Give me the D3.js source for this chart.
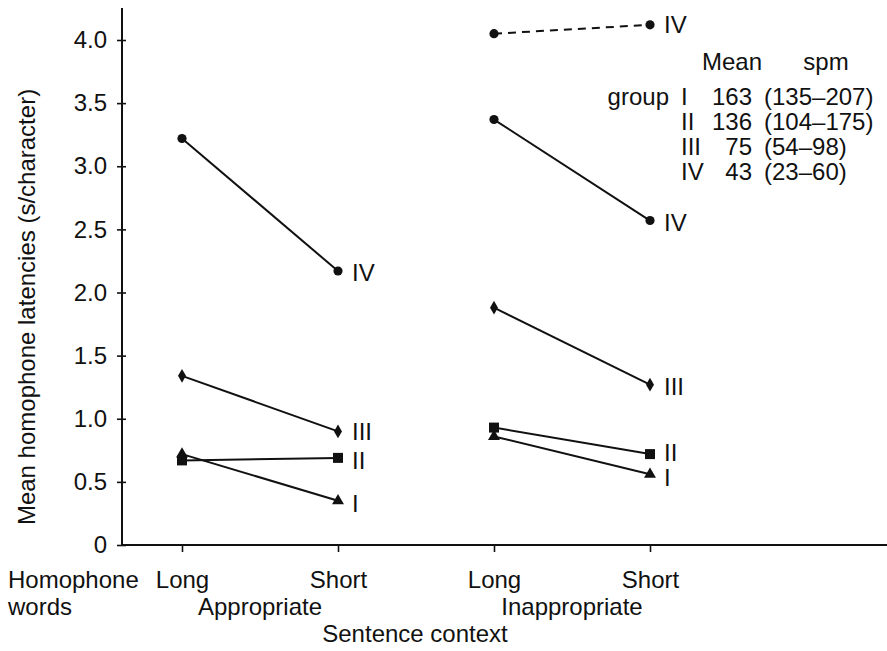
<!DOCTYPE html>
<html>
<head>
<meta charset="utf-8">
<script src="https://cdn.jsdelivr.net/npm/d3@7"></script>
<style>
  html, body { margin: 0; padding: 0; background: #fff; }
  svg text { font-family: "Liberation Sans", Arial, Helvetica, sans-serif; fill: #111; }
</style>
</head>
<body>
<svg id="chart" width="887" height="651"></svg>
<script>
// Conditions along the x axis (sentence context × homophone word length)
const conditions = ["appLong", "appShort", "inappLong", "inappShort"];
const conditionLabels = ["Long", "Short", "Long", "Short"];
const contextLabels = ["Appropriate", "Inappropriate"];

// Reader groups
const groups = ["I", "II", "III", "IV"];

// Mean homophone latencies (s/character) per group: [Long, Short]
const appropriate = {
  I:   [0.72, 0.35],
  II:  [0.67, 0.69],
  III: [1.34, 0.90],
  IV:  [3.22, 2.17]
};
const inappropriate = {
  I:   [0.86, 0.56],
  II:  [0.93, 0.72],
  III: [1.88, 1.27],
  IV:  [3.37, 2.57]
};
// Group IV, inappropriate context, second measure (dashed)
const groupIVDashed = [4.05, 4.12];

// Reading-speed table (syllables per minute)
const spmMeans = [163, 136, 75, 43];
const spmRanges = ["(135–207)", "(104–175)", "(54–98)", "(23–60)"];

const yTicks = [0, 0.5, 1.0, 1.5, 2.0, 2.5, 3.0, 3.5, 4.0];

const svg = d3.select("#chart");
const FS = 24;

const x = d3.scalePoint().domain(conditions).range([182, 650]);
const y = d3.scaleLinear().domain([0, 4]).range([545, 40]);

const symbols = {
  I: d3.symbol().type(d3.symbolTriangle).size(62),
  II: d3.symbol().type(d3.symbolSquare).size(100),
  III: d3.symbol().type(d3.symbolDiamond).size(55),
  IV: d3.symbol().type(d3.symbolCircle).size(66)
};

// Y axis
const yAxis = svg.append("g")
  .attr("transform", "translate(122,0)")
  .call(d3.axisLeft(y).tickValues(yTicks).tickSize(5).tickPadding(10)
    .tickFormat(d => d === 0 ? "0" : d3.format(".1f")(d)));
yAxis.select(".domain").remove();
yAxis.selectAll(".tick line").attr("x1", 4).attr("stroke", "#111").attr("stroke-width", 1.6);
yAxis.selectAll(".tick text").attr("font-size", FS).style("font-family", null);
svg.append("line")
  .attr("x1", 122).attr("x2", 122).attr("y1", 8).attr("y2", 546)
  .attr("stroke", "#111").attr("stroke-width", 2);

// X axis
const xAxis = svg.append("g")
  .attr("transform", "translate(0,545)")
  .call(d3.axisBottom(x).tickSize(7).tickPadding(19)
    .tickFormat((d, i) => conditionLabels[i]));
xAxis.select(".domain").remove();
xAxis.selectAll(".tick line").attr("stroke", "#111").attr("stroke-width", 1.6);
xAxis.selectAll(".tick text").attr("font-size", FS).style("font-family", null);
svg.append("line")
  .attr("x1", 121).attr("x2", 887).attr("y1", 545).attr("y2", 545)
  .attr("stroke", "#111").attr("stroke-width", 2);

// Axis titles
svg.append("text")
  .attr("transform", "translate(35,307) rotate(-90)")
  .attr("text-anchor", "middle").attr("font-size", FS)
  .text("Mean homophone latencies (s/character)");

svg.append("text").attr("x", 8).attr("y", 588).attr("font-size", FS).text("Homophone");
svg.append("text").attr("x", 8).attr("y", 615).attr("font-size", FS).text("words");

contextLabels.forEach((lab, i) => {
  const cx = (x(conditions[2 * i]) + x(conditions[2 * i + 1])) / 2;
  svg.append("text").attr("x", cx).attr("y", 615)
    .attr("text-anchor", "middle").attr("font-size", FS).text(lab);
});
svg.append("text").attr("x", 415).attr("y", 642)
  .attr("text-anchor", "middle").attr("font-size", FS).text("Sentence context");

// Series lines and markers
const line = d3.line().x(d => x(d.c)).y(d => y(d.v));

function drawSeries(values, keys, g, dashed, labelDy) {
  const pts = values.map((v, i) => ({ c: keys[i], v }));
  svg.append("path").datum(pts)
    .attr("d", line).attr("fill", "none")
    .attr("stroke", "#111").attr("stroke-width", 2)
    .attr("stroke-dasharray", dashed ? "8,6" : null);
  svg.selectAll(null).data(pts).enter().append("path")
    .attr("d", symbols[g]())
    .attr("transform", d => `translate(${x(d.c)},${y(d.v)})`)
    .attr("fill", "#111");
  const last = pts[pts.length - 1];
  svg.append("text")
    .attr("x", x(last.c) + 14).attr("y", y(last.v) + (labelDy || 0))
    .attr("dy", "0.36em").attr("font-size", FS).text(g);
}

const labelOffsets = {
  app: { I: 3, II: 2, III: 0, IV: 1 },
  inapp: { I: 3, II: -2, III: 2, IV: 2 }
};

groups.forEach(g => {
  drawSeries(appropriate[g], ["appLong", "appShort"], g, false, labelOffsets.app[g]);
  drawSeries(inappropriate[g], ["inappLong", "inappShort"], g, false, labelOffsets.inapp[g]);
});
drawSeries(groupIVDashed, ["inappLong", "inappShort"], "IV", true, 0);

// Reading-speed table
const tbl = svg.append("g");
tbl.append("text").attr("x", 732).attr("y", 70).attr("text-anchor", "middle")
  .attr("font-size", FS).text("Mean");
tbl.append("text").attr("x", 826).attr("y", 70).attr("text-anchor", "middle")
  .attr("font-size", FS).text("spm");
tbl.append("text").attr("x", 669).attr("y", 105).attr("text-anchor", "end")
  .attr("font-size", FS).text("group");
groups.forEach((g, i) => {
  const by = 105 + i * 25;
  tbl.append("text").attr("x", 681).attr("y", by).attr("font-size", FS).text(g);
  tbl.append("text").attr("x", 752).attr("y", by).attr("text-anchor", "end")
    .attr("font-size", FS).text(spmMeans[i]);
  tbl.append("text").attr("x", 764).attr("y", by).attr("font-size", FS).text(spmRanges[i]);
});
</script>
</body>
</html>
